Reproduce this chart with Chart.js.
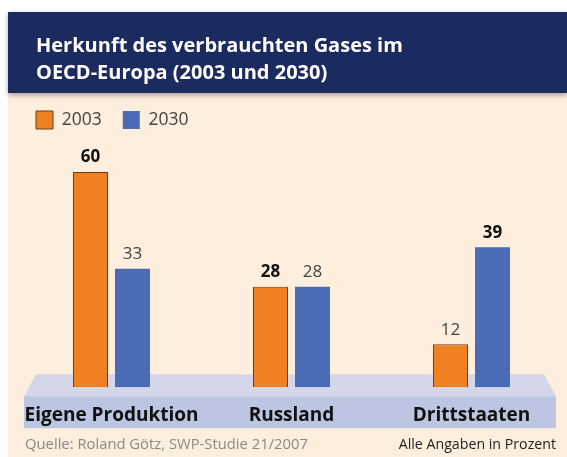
<!DOCTYPE html>
<html>
<head>
<meta charset="utf-8">
<script src="https://cdn.jsdelivr.net/npm/chart.js@4"></script>
<style>
  html, body { margin: 0; padding: 0; background: #fff; }
</style>
</head>
<body>
<canvas id="myChart" width="567" height="457"></canvas>
<script>
const categories = ['Eigene Produktion', 'Russland', 'Drittstaaten']
const years = ['2003', '2030']
const values2003 = [60, 28, 12]
const values2030 = [33, 28, 39]
// which series has its value printed in bold, per category (0 = 2003, 1 = 2030)
const boldSeries = [0, 0, 1]
const titleLines = ['Herkunft des verbrauchten Gases im', 'OECD-Europa (2003 und 2030)']
const sourceText = 'Quelle: Roland Götz, SWP-Studie 21/2007'
const unitText = 'Alle Angaben in Prozent'

const FONT = '"Open Sans", "Noto Sans", sans-serif'
const canvas = document.getElementById('myChart')

// background, header and the blue "platform" under the bars
const backdrop = {
    id: 'backdrop',
    beforeDraw(chart) {
        const ctx = chart.ctx
        const W = chart.width, H = chart.height
        const area = chart.chartArea
        ctx.save()
        ctx.fillStyle = '#ffffff'
        ctx.fillRect(0, 0, W, H)
        ctx.fillStyle = '#fdeedd'
        ctx.fillRect(8, 93, W - 8, H - 93)

        ctx.save()
        ctx.shadowColor = 'rgba(0,0,0,0.35)'
        ctx.shadowBlur = 5
        ctx.shadowOffsetY = 2
        ctx.fillStyle = '#1c2b5f'
        ctx.fillRect(8, 12, W - 8, 81)
        ctx.restore()

        ctx.fillStyle = '#ffffff'
        ctx.font = 'bold 20px ' + FONT
        ctx.textAlign = 'left'
        ctx.textBaseline = 'alphabetic'
        ctx.fillText(titleLines[0], 36, 52)
        ctx.fillText(titleLines[1], 36, 79)

        const b = area.bottom
        ctx.fillStyle = '#d4d6ea'
        ctx.beginPath()
        ctx.moveTo(36, b - 13)
        ctx.lineTo(544, b - 13)
        ctx.lineTo(556, b + 9)
        ctx.lineTo(24, b + 9)
        ctx.closePath()
        ctx.fill()
        ctx.fillStyle = '#bcc6e3'
        ctx.fillRect(24, b + 9, 532, 32)
        ctx.restore()
    }
}

const valueLabels = {
    id: 'valueLabels',
    afterDatasetsDraw(chart) {
        const ctx = chart.ctx
        ctx.save()
        ctx.textAlign = 'center'
        ctx.textBaseline = 'bottom'
        chart.data.datasets.forEach((ds, i) => {
            chart.getDatasetMeta(i).data.forEach((bar, j) => {
                const bold = boldSeries[j] === i
                ctx.font = (bold ? 'bold ' : '') + '17px ' + FONT
                ctx.fillStyle = bold ? '#111111' : '#444444'
                ctx.fillText(ds.data[j], bar.x, bar.y - 6)
            })
        })
        ctx.restore()
    }
}

const footer = {
    id: 'footer',
    afterDraw(chart) {
        const ctx = chart.ctx
        ctx.save()
        ctx.textBaseline = 'alphabetic'
        ctx.font = '14.8px ' + FONT
        ctx.fillStyle = '#8a8a8a'
        ctx.textAlign = 'left'
        ctx.fillText(sourceText, 25, 449)
        ctx.font = '14.2px ' + FONT
        ctx.fillStyle = '#222222'
        ctx.textAlign = 'right'
        ctx.fillText(unitText, 556, 449)
        ctx.restore()
    }
}

const config = {
    type: 'bar',
    data: {
        labels: categories,
        datasets: [{
            label: years[0],
            data: values2003,
            backgroundColor: '#ef8122',
            borderColor: '#6e3b16',
            borderWidth: 1
        }, {
            label: years[1],
            data: values2030,
            backgroundColor: '#4a6cb6',
            borderColor: '#4a6cb6',
            borderWidth: 0
        }]
    },
    options: {
        responsive: false,
        animation: false,
        categoryPercentage: 0.4667,
        barPercentage: 0.833,
        layout: {
            padding: { left: 15, right: 5.5, top: 90, bottom: 13 }
        },
        plugins: {
            legend: {
                position: 'top',
                align: 'start',
                labels: {
                    boxWidth: 17,
                    boxHeight: 18,
                    padding: 21,
                    color: '#444444',
                    font: { size: 17.5, family: FONT }
                }
            },
            tooltip: { enabled: false }
        },
        scales: {
            x: {
                grid: { display: false, drawTicks: false },
                border: { display: false },
                ticks: {
                    color: '#111111',
                    padding: 17,
                    maxRotation: 0,
                    font: { size: 19, weight: 'bold', family: FONT }
                }
            },
            y: {
                min: 0,
                max: 69.2,
                grid: { display: false, drawTicks: false },
                border: { display: false },
                ticks: { display: false },
                afterFit: (scale) => { scale.width = 6.5 }
            }
        }
    },
    plugins: [backdrop, valueLabels, footer]
}

const myChart = new Chart(canvas, config)
</script>
</body>
</html>
